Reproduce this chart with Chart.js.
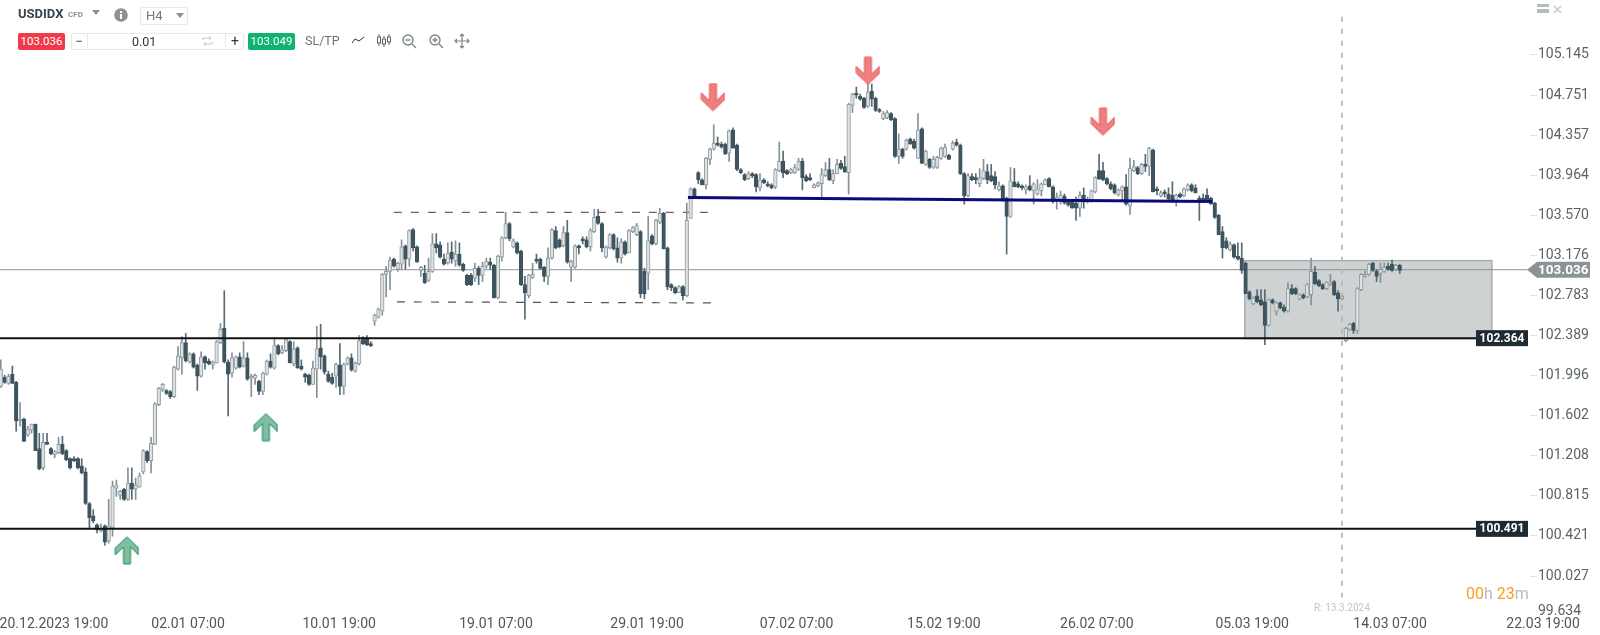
<!DOCTYPE html>
<html>
<head>
<meta charset="utf-8">
<title>USDIDX H4</title>
<script src="https://cdn.jsdelivr.net/npm/chart.js@4/dist/chart.umd.min.js"></script>
<style>
  html, body { margin: 0; padding: 0; background: #fff; }
  body { width: 1600px; height: 635px; position: relative; overflow: hidden; font-family: Roboto, sans-serif; }
  canvas { position: absolute; left: 0; top: 0; }
  .ui { position: absolute; white-space: nowrap; line-height: 16px; }
  .tag { height: 17px; line-height: 17px; color: #fff; font-size: 11.5px; text-align: center; border-radius: 2px; top: 33px; }
  svg.ui { overflow: visible; }
</style>
</head>
<body>
<canvas id="grafico" width="1600" height="635"></canvas>

<!-- barra de herramientas -->
<div class="ui" style="left:18px;top:6px;font-size:13px;font-weight:700;color:#37424a">USDIDX</div>
<div class="ui" style="left:68px;top:7px;font-size:8px;font-weight:700;color:#8a9094">CFD</div>
<svg class="ui" style="left:92px;top:10px" width="9" height="5"><path d="M0 0H8L4 5Z" fill="#8a8f93"/></svg>
<svg class="ui" style="left:114px;top:8px" width="14" height="14"><circle cx="7" cy="7" r="6.8" fill="#909090"/><rect x="6" y="6" width="2" height="5" fill="#fff"/><rect x="6" y="3" width="2" height="2" fill="#fff"/></svg>
<div class="ui" style="left:140px;top:7px;width:46px;height:16px;border:1px solid #e8e8e8;border-radius:2px"></div>
<div class="ui" style="left:146px;top:8px;font-size:13px;color:#777">H4</div>
<svg class="ui" style="left:176px;top:13px" width="9" height="5"><path d="M0 0H8L4 5Z" fill="#8a8f93"/></svg>

<div class="ui tag" style="left:18px;width:47px;background:#f0394a">103.036</div>
<div class="ui" style="left:71px;top:33px;width:171px;height:15px;border:1px solid #e8e8e8;border-radius:2px"></div>
<div class="ui" style="left:87px;top:33px;width:1px;height:17px;background:#e8e8e8"></div>
<div class="ui" style="left:225px;top:33px;width:1px;height:17px;background:#e8e8e8"></div>
<div class="ui" style="left:75px;top:33px;font-size:14px;color:#555">−</div>
<div class="ui" style="left:132px;top:34px;font-size:12.5px;color:#333">0.01</div>
<svg class="ui" style="left:202px;top:36px" width="11" height="10" fill="none" stroke="#c4c8ca" stroke-width="1"><path d="M1 4V2H9M7 0L9 2L7 4M10 6V8H2M4 6L2 8L4 10"/></svg>
<div class="ui" style="left:231px;top:33px;font-size:14px;color:#333">+</div>
<div class="ui tag" style="left:248px;width:47px;background:#0fb36e">103.049</div>
<div class="ui" style="left:305px;top:33px;font-size:12.5px;color:#6d7478">SL/TP</div>
<svg class="ui" style="left:351px;top:35px" width="14" height="10" fill="none" stroke="#333" stroke-width="1"><path d="M1 8L4 4L8 6L13 2"/></svg>
<svg class="ui" style="left:377px;top:33px" width="15" height="17" fill="none" stroke="#55606a" stroke-width="1"><path d="M2 1V13M7 3V14M12 1V12"/><rect x="0.5" y="4" width="3" height="6" fill="#fff"/><rect x="5.5" y="6" width="3" height="5" fill="#fff"/><rect x="10.5" y="4" width="3" height="5" fill="#fff"/></svg>
<svg class="ui" style="left:402px;top:34px" width="15" height="15" fill="none" stroke="#7b858b" stroke-width="1.4"><circle cx="6" cy="6" r="5"/><path d="M3.5 6H8.5M10 10L14 14"/></svg>
<svg class="ui" style="left:429px;top:34px" width="15" height="15" fill="none" stroke="#7b858b" stroke-width="1.4"><circle cx="6" cy="6" r="5"/><path d="M3.5 6H8.5M6 3.5V8.5M10 10L14 14"/></svg>
<svg class="ui" style="left:455px;top:34px" width="15" height="15" fill="none" stroke="#7b858b" stroke-width="1.2"><path d="M7 0V14M0 7H14M5 2L7 0L9 2M5 12L7 14L9 12M2 5L0 7L2 9M12 5L14 7L12 9"/></svg>
<div class="ui" style="left:1537px;top:4px;width:12px;height:9px;background:#b5bcc0"><div style="height:2px;margin-top:3px;background:#fff"></div></div>
<svg class="ui" style="left:1553px;top:5px" width="9" height="9" stroke="#c5cbcf" stroke-width="1.5"><path d="M1 1L8 8M8 1L1 8"/></svg>

<!-- reloj de la vela -->
<div class="ui" style="left:1466px;top:586px;font-size:16px;color:#bbb"><span style="color:#ff9a1f">00</span>h <span style="color:#ff9a1f">23</span>m</div>

<script>
// Velas H4
const aperturas = [
  101.89,101.98,101.92,102.01,101.93,101.55,101.57,101.41,101.46,101.52,101.28,101.09,101.34,101.28,101.22,101.24,101.32,101.26,101.18,101.18,
  101.18,101.11,101.05,100.74,100.62,100.53,100.47,100.52,100.37,100.50,100.89,100.82,100.88,100.78,100.94,100.88,100.90,101.05,101.25,101.16,
  101.32,101.71,101.86,101.85,101.84,101.79,102.06,102.17,102.32,102.13,102.21,102.10,101.99,102.18,102.14,102.10,102.12,102.32,102.46,102.13,
  102.02,102.07,102.18,102.09,102.17,101.97,101.97,101.94,101.84,102.01,102.14,102.07,102.29,102.22,102.24,102.33,102.11,102.27,102.09,102.01,
  102.00,101.91,102.06,102.27,102.19,102.01,101.98,101.99,102.10,101.89,102.11,102.17,102.04,102.11,102.35,102.36,102.31,102.53,102.57,102.63,
  102.99,103.02,103.14,103.04,103.09,103.27,103.14,103.43,103.26,103.03,103.00,102.93,103.02,103.29,103.28,103.14,103.10,103.21,103.12,103.19,
  103.09,102.98,102.98,102.95,103.05,102.98,103.07,103.11,103.08,102.76,103.16,103.35,103.49,103.26,103.30,103.22,102.89,102.78,102.96,103.14,
  103.14,103.06,102.97,103.15,103.42,103.33,103.27,103.40,103.06,103.06,103.27,103.34,103.33,103.26,103.41,103.56,103.49,103.16,103.25,103.38,
  103.25,103.15,103.31,103.20,103.41,103.38,103.41,103.02,103.00,103.37,103.29,103.50,103.59,103.25,102.89,102.86,102.81,102.87,102.78,103.54,
  103.83,103.99,103.92,103.87,104.12,104.22,104.28,104.27,104.27,104.18,104.41,104.26,104.02,103.97,103.93,103.97,103.97,103.84,103.92,103.88,
  103.87,103.85,104.01,104.10,104.01,103.99,103.99,104.02,104.10,103.95,103.94,103.84,103.86,103.88,103.96,104.02,103.91,103.98,104.08,104.05,
  103.99,104.65,104.76,104.74,104.72,104.64,104.79,104.72,104.61,104.52,104.53,104.57,104.52,104.15,104.22,104.22,104.32,104.30,104.13,104.42,
  104.07,104.12,104.04,104.04,104.13,104.15,104.16,104.22,104.29,104.26,103.98,103.76,103.95,103.94,103.88,103.93,104.00,103.96,103.95,103.82,
  103.86,103.74,103.56,103.90,103.88,103.85,103.82,103.86,103.81,103.78,103.81,103.87,103.93,103.85,103.71,103.72,103.76,103.70,103.70,103.69,
  103.64,103.77,103.70,103.71,103.80,104.01,104.01,103.93,103.88,103.87,103.77,103.81,103.85,103.66,104.01,104.04,103.98,104.07,104.05,104.21,
  103.83,103.76,103.80,103.78,103.77,103.71,103.78,103.76,103.82,103.87,103.84,103.74,103.74,103.77,103.74,103.69,103.57,103.41,103.32,103.23,
  103.28,103.17,103.15,103.10,102.82,102.70,102.78,102.74,102.72,102.49,102.74,102.63,102.71,102.67,102.63,102.85,102.85,102.75,102.79,102.77,
  102.79,103.01,102.93,102.89,102.85,102.89,102.92,102.81,102.75,102.34,102.45,102.51,102.44,102.84,102.97,102.99,103.10,103.02,103.00,103.02,103.07,103.09,103.04,103.08
];
const maximos = [
  102.15,102.00,102.01,102.09,101.94,101.73,101.58,101.50,101.52,101.52,101.43,101.43,101.43,101.29,101.26,101.39,101.40,101.27,101.19,101.20,
  101.19,101.18,101.09,100.75,100.68,100.54,100.54,100.53,100.78,100.96,100.97,100.87,100.89,101.09,101.09,100.99,101.04,101.27,101.26,101.39,
  101.73,101.88,101.92,101.86,101.85,102.09,102.28,102.38,102.41,102.22,102.22,102.11,102.23,102.19,102.16,102.14,102.34,102.51,102.83,102.15,
  102.22,102.19,102.22,102.33,102.22,102.01,102.01,101.95,102.03,102.15,102.21,102.37,102.30,102.29,102.36,102.34,102.33,102.28,102.15,102.02,
  102.01,102.14,102.48,102.50,102.20,102.04,102.02,102.12,102.31,102.12,102.18,102.21,102.13,102.39,102.38,102.39,102.33,102.60,102.66,103.00,
  103.07,103.16,103.15,103.11,103.33,103.28,103.43,103.44,103.27,103.07,103.08,103.15,103.39,103.39,103.31,103.19,103.30,103.31,103.32,103.30,
  103.10,102.99,103.00,103.10,103.07,103.11,103.15,103.15,103.09,103.18,103.36,103.60,103.50,103.34,103.31,103.23,102.97,102.99,103.10,103.19,
  103.15,103.07,103.25,103.44,103.46,103.34,103.46,103.52,103.13,103.28,103.28,103.36,103.36,103.44,103.63,103.63,103.50,103.27,103.39,103.39,
  103.35,103.34,103.32,103.43,103.46,103.49,103.42,103.05,103.56,103.38,103.53,103.64,103.60,103.26,102.90,102.87,102.88,102.88,103.69,103.84,
  103.84,104.00,103.93,104.14,104.23,104.46,104.34,104.29,104.28,104.41,104.43,104.27,104.03,103.98,104.00,103.99,103.98,103.98,103.93,103.90,
  103.88,104.03,104.29,104.20,104.02,104.03,104.07,104.13,104.13,103.97,103.98,103.88,103.90,104.03,104.09,104.13,104.02,104.12,104.11,104.15,
  104.67,104.77,104.83,104.76,104.73,104.87,104.86,104.73,104.62,104.59,104.60,104.58,104.53,104.37,104.23,104.32,104.33,104.32,104.57,104.43,
  104.21,104.13,104.15,104.15,104.24,104.27,104.17,104.30,104.32,104.27,103.99,103.98,103.98,103.98,104.03,104.12,104.07,104.07,104.00,103.90,
  103.87,103.75,104.04,104.03,103.90,103.87,103.87,103.96,103.89,103.92,103.89,103.93,103.94,103.86,103.79,103.81,103.78,103.71,103.71,103.75,
  103.80,103.84,103.75,103.82,103.95,104.17,104.09,103.94,103.90,103.88,103.83,103.86,103.97,104.13,104.11,104.05,104.08,104.17,104.24,104.22,
  103.85,103.81,103.82,103.84,103.90,103.78,103.79,103.84,103.88,103.88,103.87,103.76,103.78,103.83,103.75,103.70,103.58,103.46,103.35,103.31,
  103.29,103.30,103.30,103.11,102.83,102.77,102.84,102.84,102.84,102.75,102.75,102.72,102.72,102.69,102.91,102.89,102.86,102.80,102.80,102.90,
  103.15,103.07,102.94,102.90,102.92,102.99,102.93,102.83,102.80,102.47,102.51,102.52,102.86,103.00,103.02,103.10,103.11,103.04,103.10,103.10,103.10,103.13,103.09,103.09
];
const minimos = [
  101.88,101.92,101.91,101.92,101.45,101.50,101.35,101.40,101.43,101.26,101.07,101.07,101.32,101.22,101.19,101.23,101.22,101.16,101.08,101.15,
  101.08,101.03,100.73,100.49,100.55,100.45,100.46,100.33,100.35,100.42,100.81,100.78,100.77,100.77,100.78,100.78,100.90,101.03,101.14,101.04,
  101.32,101.70,101.84,101.81,101.77,101.78,102.05,102.01,102.13,102.12,102.07,101.85,101.98,102.06,102.10,102.06,102.12,102.31,102.12,101.60,
  101.98,102.06,102.07,102.08,101.95,101.79,101.91,101.81,101.81,102.00,102.07,102.06,102.20,102.21,102.23,102.12,102.09,102.07,102.05,101.93,
  101.90,101.91,101.78,102.06,102.01,101.93,101.91,101.88,101.81,101.81,102.10,102.04,102.03,102.10,102.30,102.29,102.28,102.49,102.56,102.59,
  102.77,102.84,103.06,103.02,103.04,103.04,103.07,103.22,103.11,102.97,102.90,102.92,103.01,103.20,103.15,103.08,103.09,103.10,103.07,103.07,
  103.02,102.88,102.88,102.92,102.89,102.92,103.05,103.04,102.76,102.75,103.12,103.34,103.32,103.25,103.19,102.88,102.55,102.76,102.95,103.10,
  103.04,102.92,102.89,103.14,103.24,103.25,103.26,103.10,102.92,103.05,103.19,103.29,103.25,103.22,103.40,103.48,103.21,103.15,103.24,103.23,
  103.11,103.10,103.18,103.20,103.40,103.37,102.76,102.75,102.84,103.28,103.28,103.49,103.24,102.84,102.83,102.80,102.81,102.74,102.77,103.54,
  103.74,103.88,103.87,103.83,104.07,104.21,104.25,104.23,104.17,104.10,104.23,104.01,103.98,103.91,103.92,103.94,103.80,103.81,103.88,103.85,
  103.83,103.83,104.00,103.94,103.97,103.98,103.98,104.01,103.82,103.90,103.91,103.84,103.85,103.75,103.95,103.91,103.88,103.98,104.02,103.99,
  103.78,104.58,104.72,104.70,104.62,104.63,104.64,104.59,104.58,104.51,104.52,104.50,104.14,104.08,104.13,104.21,104.27,104.22,104.13,104.08,
  104.06,104.03,104.03,104.03,104.12,104.14,104.12,104.21,104.25,103.97,103.68,103.75,103.91,103.88,103.85,103.92,103.88,103.90,103.83,103.81,
  103.71,103.19,103.55,103.85,103.84,103.82,103.78,103.81,103.68,103.77,103.76,103.87,103.85,103.69,103.63,103.68,103.68,103.66,103.64,103.52,
  103.56,103.64,103.69,103.70,103.79,103.92,103.91,103.87,103.82,103.78,103.76,103.71,103.67,103.58,104.00,103.97,103.97,104.00,103.96,103.80,
  103.77,103.75,103.75,103.72,103.70,103.66,103.74,103.75,103.81,103.80,103.79,103.52,103.70,103.70,103.68,103.54,103.38,103.15,103.24,103.22,
  103.15,103.13,103.00,102.80,102.74,102.69,102.71,102.68,102.30,102.48,102.70,102.59,102.65,102.62,102.62,102.79,102.79,102.74,102.75,102.76,
  102.69,102.89,102.87,102.84,102.84,102.88,102.78,102.63,102.74,102.33,102.44,102.41,102.41,102.83,102.96,102.98,103.02,102.92,102.91,103.01,103.03,103.02,103.03,103.00
];
const cierres = [
  102.06,101.93,101.99,101.92,101.55,101.57,101.35,101.47,101.52,101.26,101.08,101.34,101.32,101.23,101.25,101.32,101.23,101.17,101.09,101.16,
  101.09,101.04,100.74,100.60,100.57,100.48,100.49,100.36,100.52,100.91,100.92,100.86,100.78,100.94,100.88,100.92,101.01,101.26,101.16,101.33,
  101.72,101.87,101.91,101.82,101.79,102.08,102.19,102.32,102.14,102.21,102.08,101.99,102.18,102.12,102.11,102.13,102.33,102.45,102.13,102.01,
  102.17,102.18,102.08,102.17,101.96,101.99,102.00,101.84,102.02,102.14,102.08,102.29,102.21,102.25,102.35,102.12,102.26,102.07,102.06,101.98,
  101.91,102.07,102.26,102.18,102.03,101.94,101.92,102.11,101.89,102.11,102.17,102.05,102.12,102.34,102.31,102.30,102.29,102.59,102.65,102.99,
  103.02,103.13,103.07,103.10,103.26,103.14,103.42,103.25,103.11,103.06,102.91,103.02,103.29,103.25,103.16,103.09,103.20,103.14,103.19,103.08,
  103.03,102.89,102.89,103.05,102.98,103.07,103.12,103.08,102.76,103.17,103.35,103.49,103.34,103.32,103.20,102.89,102.81,102.98,102.99,103.12,
  103.05,102.97,103.15,103.43,103.25,103.26,103.40,103.11,103.12,103.27,103.25,103.32,103.26,103.42,103.55,103.49,103.25,103.26,103.38,103.24,
  103.15,103.31,103.19,103.42,103.45,103.47,102.80,102.80,103.32,103.29,103.52,103.59,103.24,102.87,102.86,102.81,102.87,102.78,103.52,103.83,
  103.74,103.92,103.87,104.13,104.22,104.28,104.26,104.24,104.17,104.40,104.23,104.02,103.99,103.92,103.98,103.96,103.85,103.92,103.89,103.86,
  103.84,104.02,104.10,103.99,103.98,104.02,104.04,104.10,103.94,103.91,103.92,103.87,103.89,103.97,104.02,103.92,103.98,104.07,104.03,104.00,
  104.66,104.76,104.75,104.71,104.63,104.78,104.71,104.60,104.59,104.57,104.58,104.51,104.15,104.22,104.15,104.31,104.27,104.23,104.41,104.08,
  104.20,104.04,104.12,104.14,104.23,104.24,104.12,104.28,104.26,103.98,103.76,103.96,103.92,103.92,103.94,104.01,103.92,103.91,103.87,103.86,
  103.72,103.56,103.91,103.85,103.85,103.84,103.85,103.82,103.88,103.83,103.88,103.92,103.85,103.71,103.75,103.77,103.69,103.67,103.64,103.64,
  103.77,103.70,103.73,103.81,103.94,103.93,103.92,103.88,103.83,103.79,103.82,103.85,103.68,104.03,104.05,103.98,104.07,104.05,104.23,103.80,
  103.81,103.79,103.78,103.73,103.71,103.77,103.75,103.83,103.87,103.81,103.79,103.71,103.71,103.71,103.68,103.55,103.38,103.25,103.25,103.29,
  103.16,103.14,103.03,102.80,102.75,102.76,102.72,102.69,102.49,102.74,102.71,102.71,102.66,102.63,102.85,102.80,102.80,102.79,102.76,102.89,
  103.02,102.90,102.88,102.85,102.91,102.91,102.79,102.75,102.78,102.46,102.50,102.44,102.85,102.99,102.99,103.09,103.03,102.97,103.04,103.06,103.04,103.03,103.08,103.03
];

// Ejes
const preciosEje = [105.145,104.751,104.357,103.964,103.570,103.176,102.783,102.389,101.996,101.602,101.208,100.815,100.421,100.027,99.634];
const fechasEje = ["20.12.2023 19:00","02.01 07:00","10.01 19:00","19.01 07:00","29.01 19:00","07.02 07:00","15.02 19:00","26.02 07:00","05.03 19:00","14.03 07:00","22.03 19:00"];
const velasEje = [13.8,48.6,87.8,128.5,167.7,206.5,244.7,284.4,324.7,360.5,400.2];

// Niveles y dibujos del analisis (vela, precio)
const precioActual = 103.036;
const nivelSoporte = 102.364;
const nivelMinimo = 100.491;
const lineaAzul = [[178.3,103.745],[314.3,103.705]];
const rangoAlto = [[102,103.60],[185.3,103.60]];
const rangoBajo = [[102.8,102.72],[186,102.71]];
const lineaRollover = [[348,105.52],[348,99.82]];
const zonaGris = {desde: 322.8, hasta: 386.9, alto: 103.125, bajo: 102.36};
const flechasRojas = [[184.8,104.73],[225,104.99],[286,104.49]];
const flechasVerdes = [[32.75,100.28],[68.8,101.49]];

const puntos = lista => lista.map(p => ({x: p[0], y: p[1]}));
const velas = aperturas.map((_, i) => i);
const alcista = i => cierres[i] >= aperturas[i];

// Flecha en bloque para usar como pointStyle
function crearFlecha(relleno, borde, haciaArriba) {
  const c = document.createElement("canvas");
  c.width = 25; c.height = 29;
  const g = c.getContext("2d");
  if (haciaArriba) { g.translate(0, 29); g.scale(1, -1); }
  g.beginPath();
  [[9,1],[16,1],[16,18],[24,10],[24,17],[12.5,28],[1,17],[1,10],[9,18]].forEach((p, i) => i ? g.lineTo(p[0], p[1]) : g.moveTo(p[0], p[1]));
  g.closePath();
  g.fillStyle = relleno; g.fill();
  g.strokeStyle = borde; g.lineWidth = 1; g.stroke();
  return c;
}

function linea(datos, color, ancho, orden, guiones) {
  return {type: "line", data: datos, borderColor: color, borderWidth: ancho, borderDash: guiones || [], pointRadius: 0, order: orden};
}

// Zona gris detras de las velas
const zonaPlugin = {
  id: "zona",
  beforeDatasetsDraw(chart) {
    const {ctx, scales: {x, y}} = chart;
    const a = x.getPixelForValue(zonaGris.desde), b = x.getPixelForValue(zonaGris.hasta);
    const t = y.getPixelForValue(zonaGris.alto), u = y.getPixelForValue(zonaGris.bajo);
    ctx.save();
    ctx.fillStyle = "#cfd2d3";
    ctx.strokeStyle = "#a3afb3";
    ctx.lineWidth = 1.5;
    ctx.fillRect(a, t, b - a, u - t);
    ctx.strokeRect(a, t, b - a, u - t);
    ctx.restore();
  }
};

// Etiquetas de precio sobre el eje
const etiquetasPlugin = {
  id: "etiquetas",
  afterDatasetsDraw(chart) {
    const {ctx, chartArea, scales: {x, y}} = chart;
    const r = chartArea.right;
    ctx.save();
    ctx.textBaseline = "middle";
    ctx.font = "700 12px Roboto";
    [nivelSoporte, nivelMinimo].forEach(v => {
      const py = y.getPixelForValue(v);
      ctx.fillStyle = "#1f2b33";
      ctx.fillRect(r - 54, py - 8, 52, 16);
      ctx.fillStyle = "#fff";
      ctx.textAlign = "center";
      ctx.fillText(v.toFixed(3), r - 28, py + 0.5);
    });
    const py = y.getPixelForValue(precioActual);
    ctx.fillStyle = "#8c9397";
    ctx.beginPath();
    ctx.moveTo(r - 3, py);
    ctx.lineTo(r + 7, py - 8);
    ctx.lineTo(r + 60, py - 8);
    ctx.lineTo(r + 60, py + 8);
    ctx.lineTo(r + 7, py + 8);
    ctx.closePath();
    ctx.fill();
    ctx.fillStyle = "#fff";
    ctx.textAlign = "left";
    ctx.font = "700 13.5px Roboto";
    ctx.fillText(precioActual.toFixed(3), r + 8, py + 0.5);
    ctx.font = "10px Roboto";
    ctx.fillStyle = "#c4c4c4";
    ctx.textAlign = "center";
    ctx.fillText("R: 13.3.2024", x.getPixelForValue(lineaRollover[0][0]), 608);
    ctx.restore();
  }
};

Chart.defaults.font.family = "Roboto";

const ctx = document.getElementById("grafico").getContext("2d");
new Chart(ctx, {
  type: "bar",
  data: {
    datasets: [
      linea(puntos([[-0.2,precioActual],[396,precioActual]]), "#8d9091", 1, 6),
      linea(puntos(rangoAlto), "#666", 1.2, 5, [8,9]),
      linea(puntos(rangoBajo), "#555", 1.2, 5, [8,9]),
      {
        data: velas.map(i => ({x: i, y: [minimos[i], maximos[i]]})),
        barThickness: 1,
        grouped: false,
        backgroundColor: velas.map(i => alcista(i) ? "#859197" : "#566a73"),
        order: 4
      },
      {
        data: velas.map(i => ({x: i, y: [Math.min(aperturas[i], cierres[i]), Math.max(aperturas[i], cierres[i])]})),
        barThickness: 3.6,
        grouped: false,
        minBarLength: 2,
        backgroundColor: velas.map(i => alcista(i) ? "#dfe2e3" : "#3e5560"),
        borderColor: velas.map(i => alcista(i) ? "#8f9a9f" : "#3e5560"),
        borderWidth: 1,
        borderSkipped: false,
        order: 3
      },
      linea(puntos(lineaRollover), "#b5b5b5", 1.7, 2, [5,7]),
      linea(puntos([[-0.2,nivelSoporte],[396,nivelSoporte]]), "#111", 2, 1),
      linea(puntos([[-0.2,nivelMinimo],[396,nivelMinimo]]), "#111", 2, 1),
      linea(puntos(lineaAzul), "#0b0b78", 3, 1),
      {type: "scatter", data: puntos(flechasRojas), pointStyle: crearFlecha("#ee8080", "#e85a5a", false), order: 0},
      {type: "scatter", data: puntos(flechasVerdes), pointStyle: crearFlecha("#7fbf9f", "#1f8a63", true), order: 0}
    ]
  },
  options: {
    responsive: false,
    animation: false,
    events: [],
    layout: {padding: 0, autoPadding: false},
    plugins: {legend: {display: false}, tooltip: {enabled: false}},
    scales: {
      x: {
        type: "linear",
        min: -0.2,
        max: 396.8,
        offset: false,
        grid: {display: false, drawTicks: false},
        border: {display: false},
        afterBuildTicks: s => { s.ticks = velasEje.map(v => ({value: v})); },
        afterFit: s => { s.height = 20; s.paddingLeft = 0; s.paddingRight = 0; },
        ticks: {
          autoSkip: false,
          maxRotation: 0,
          padding: 1,
          color: "#555",
          font: {size: 14},
          callback: (v, i) => fechasEje[i]
        }
      },
      y: {
        position: "right",
        min: 99.645,
        max: 105.685,
        grid: {
          drawOnChartArea: false,
          tickLength: 7,
          color: c => c.index === preciosEje.length - 1 ? "rgba(0,0,0,0)" : "#e3e3e3"
        },
        border: {display: false},
        afterBuildTicks: s => { s.ticks = preciosEje.map(v => ({value: v})); },
        afterFit: s => { s.width = 70; s.paddingTop = 0; s.paddingBottom = 0; },
        ticks: {
          autoSkip: false,
          padding: 1,
          color: "#5b6368",
          font: c => ({size: 14, lineHeight: c.index === preciosEje.length - 1 ? 0.7 : 1.2}),
          // la ultima etiqueta sube para no salirse del eje
          callback: (v, i) => i === preciosEje.length - 1 ? [v.toFixed(3), ""] : v.toFixed(3)
        }
      }
    }
  },
  plugins: [zonaPlugin, etiquetasPlugin]
});
</script>
</body>
</html>
